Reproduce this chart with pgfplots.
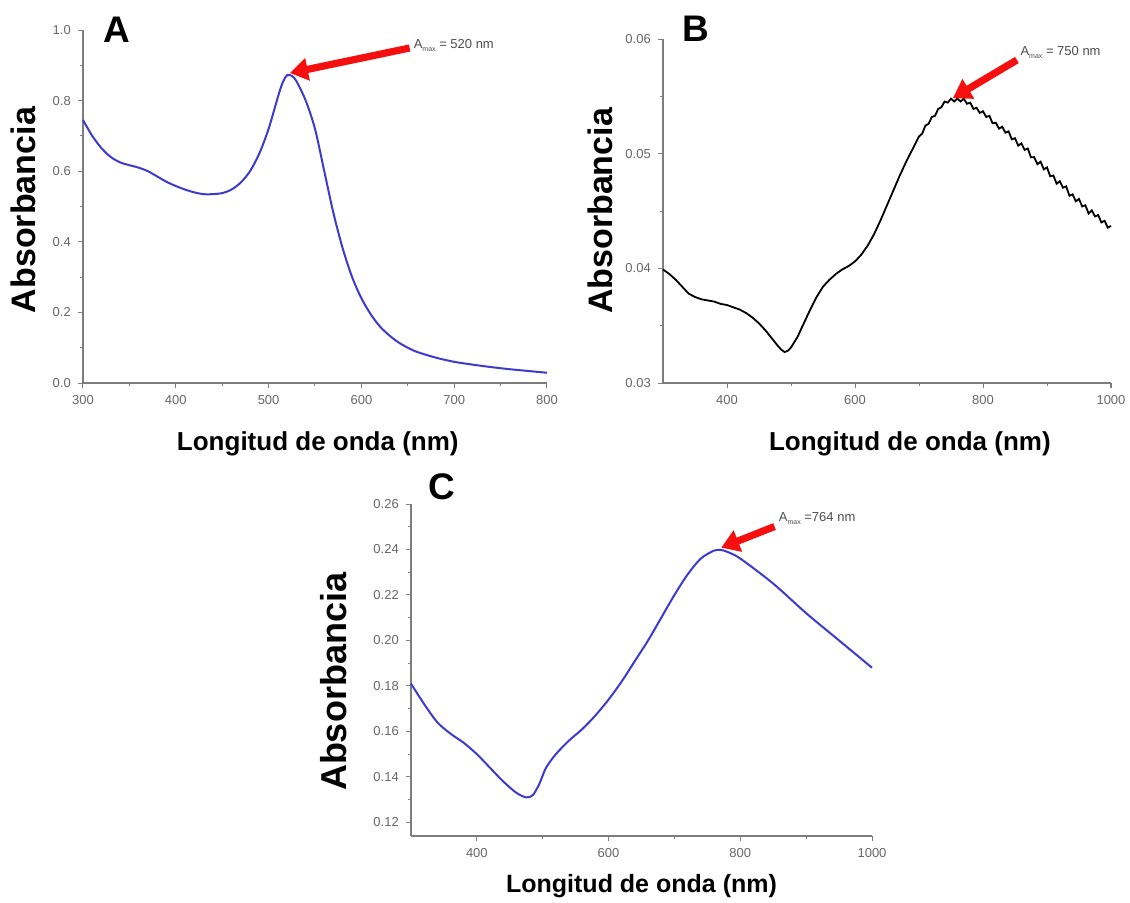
\documentclass[border=0pt]{standalone}
\usepackage{pgfplots}
\pgfplotsset{compat=1.18}
\usepackage{fontspec}
\setmainfont{Liberation Sans}
\usetikzlibrary{arrows.meta}
\definecolor{curveblue}{RGB}{62,58,205}
\definecolor{axgray}{RGB}{125,125,125}
\definecolor{arrred}{RGB}{245,15,15}
\pgfplotsset{
  every axis/.append style={
    scale only axis, axis lines=left,
    axis line style={-, draw=axgray, line width=0.6pt},
    tick align=outside, tick style={draw=axgray, line width=0.5pt},
    major tick length=2.6pt, minor tick length=1.6pt,
    tick label style={font=\fontsize{6.5}{7.5}\selectfont, text=black!60},
    /pgf/number format/assume math mode=true,
    /pgf/number format/1000 sep={},
    scaled y ticks=false, scaled x ticks=false,
    label style={font=\bfseries\fontsize{13}{15}\selectfont, inner sep=0pt},
    ylabel style={font=\bfseries\fontsize{17}{19}\selectfont, anchor=south},
    xlabel style={anchor=north},
    clip=false, anchor=south west,
  },
}
\tikzset{
  annot/.style={font=\fontsize{6.5}{7.5}\selectfont, text=black!70, anchor=base west, inner sep=0pt},
  redarrow/.style={draw=arrred, line width=3.6pt, -{Triangle[length=9pt,width=11pt]}},
}
\newcommand{\Amax}{A\raisebox{-0.5ex}{\fontsize{3.5}{4}\selectfont max}}
\begin{document}
\begin{tikzpicture}
\path[use as bounding box] (0,0) rectangle (565pt,451pt);
% ---------------- A ----------------
\begin{axis}[at={(41.5pt,259.5pt)}, width=232pt, height=176.5pt,
  xmin=300, xmax=800, ymin=0, ymax=1.0,
  xtick={300,400,500,600,700,800}, minor x tick num=1,
  ytick={0,0.2,0.4,0.6,0.8,1.0}, minor y tick num=1,
  yticklabel style={/pgf/number format/fixed, /pgf/number format/fixed zerofill, /pgf/number format/precision=1},
  xlabel={Longitud de onda (nm)}, ylabel={Absorbancia},
  xlabel style={at={(axis description cs:0.506,-0.136)}},
  ylabel style={at={(axis description cs:-0.101,0.49)}},
]
\addplot[curveblue, line width=1pt, smooth] coordinates {
(300,0.745)(310,0.700)(320,0.665)(330,0.640)(340,0.625)(350,0.617)(360,0.610)
(370,0.600)(380,0.585)(390,0.570)(400,0.558)(410,0.548)(420,0.540)(430,0.535)
(440,0.535)(450,0.538)(460,0.548)(470,0.568)(480,0.600)(490,0.650)(500,0.720)
(510,0.810)(515,0.850)(520,0.872)(525,0.870)(530,0.855)(540,0.800)(550,0.720)
(560,0.600)(570,0.480)(580,0.380)(590,0.300)(600,0.240)(610,0.195)(620,0.160)
(630,0.135)(640,0.115)(650,0.100)(660,0.088)(680,0.072)(700,0.060)(720,0.052)
(740,0.045)(760,0.039)(780,0.034)(800,0.029)};
\draw[redarrow] (axis cs:652,0.949) -- (axis cs:523,0.878);
\node[annot] at (axis cs:656,0.949) {\Amax{} = 520 nm};
\end{axis}
% ---------------- B ----------------
\begin{axis}[at={(331.5pt,259.5pt)}, width=224pt, height=172pt,
  xmin=300, xmax=1000, ymin=0.03, ymax=0.06,
  xtick={400,600,800,1000}, minor x tick num=1,
  ytick={0.03,0.04,0.05,0.06}, minor y tick num=1,
  yticklabel style={/pgf/number format/fixed, /pgf/number format/fixed zerofill, /pgf/number format/precision=2},
  xlabel={Longitud de onda (nm)}, ylabel={Absorbancia},
  xlabel style={at={(axis description cs:0.551,-0.14)}},
  ylabel style={at={(axis description cs:-0.112,0.5)}},
]
\addplot[black, line width=0.9pt] coordinates {
(300,0.0399)(310,0.0395)(320,0.0390)(330,0.0384)(340,0.0378)(350,0.0375)(360,0.0373)
(370,0.0372)(380,0.0371)(390,0.0369)(400,0.0368)(410,0.0366)(420,0.0364)(430,0.0361)
(440,0.0357)(450,0.0352)(460,0.0346)(470,0.0339)(480,0.0332)(485,0.0329)(490,0.0327)
(495,0.0328)(500,0.0331)(510,0.0340)(520,0.0352)(530,0.0364)(540,0.0375)(550,0.0384)
(560,0.0390)(570,0.0395)(580,0.0399)(590,0.0402)(600,0.0406)(610,0.0412)(620,0.0420)
(630,0.0430)(640,0.0442)(650,0.0455)(660,0.0468)(670,0.0481)(680,0.0493)(690,0.0504)
(700,0.05150)(705,0.05175)(710,0.05245)(715,0.05260)(720,0.05320)(725,0.05330)
(730,0.05390)(735,0.05405)(740,0.05455)(745,0.05445)(750,0.05480)(755,0.05455)
(760,0.05480)(765,0.05455)(770,0.05480)(775,0.05435)(780,0.05445)(785,0.05390)
(790,0.05400)(795,0.05355)(800,0.05370)(805,0.05320)(810,0.05330)(815,0.05265)
(820,0.05270)(825,0.05218)(830,0.05235)(835,0.05183)(840,0.05195)(845,0.05125)
(850,0.05135)(855,0.05070)(860,0.05090)(865,0.05033)(870,0.05045)(875,0.04968)
(880,0.04970)(885,0.04908)(890,0.04930)(895,0.04863)(900,0.04880)(905,0.04803)
(910,0.04810)(915,0.04738)(920,0.04760)(925,0.04703)(930,0.04715)(935,0.04633)
(940,0.04645)(945,0.04585)(950,0.04605)(955,0.04540)(960,0.04550)(965,0.04478)
(970,0.04505)(975,0.04453)(980,0.04465)(985,0.04400)(990,0.04415)(995,0.04355)
(1000,0.04370)};
\draw[redarrow] (axis cs:853,0.05817) -- (axis cs:753,0.05485);
\node[annot] at (axis cs:858,0.0586) {\Amax{} = 750 nm};
\end{axis}
% ---------------- C ----------------
\begin{axis}[at={(205.5pt,33pt)}, width=230.5pt, height=166pt,
  xmin=300, xmax=1000, ymin=0.114, ymax=0.26,
  xtick={400,600,800,1000}, minor x tick num=1,
  ytick={0.12,0.14,0.16,0.18,0.20,0.22,0.24,0.26}, minor y tick num=1,
  yticklabel style={/pgf/number format/fixed, /pgf/number format/fixed zerofill, /pgf/number format/precision=2},
  xlabel={Longitud de onda (nm)}, ylabel={Absorbancia},
  xlabel style={at={(axis description cs:0.5,-0.114)}, font=\bfseries\fontsize{12.5}{14}\selectfont},
  ylabel style={at={(axis description cs:-0.139,0.464)}, font=\bfseries\fontsize{18}{20}\selectfont},
]
\addplot[curveblue, line width=1pt, smooth] coordinates {
(300,0.181)(320,0.172)(340,0.164)(360,0.159)(380,0.155)(400,0.150)(420,0.144)
(440,0.138)(460,0.133)(475,0.131)(485,0.132)(495,0.137)(505,0.144)(520,0.150)
(540,0.156)(560,0.161)(580,0.167)(600,0.174)(620,0.182)(640,0.191)(660,0.200)
(680,0.210)(700,0.220)(720,0.229)(740,0.236)(760,0.2395)(770,0.2398)(780,0.239)
(800,0.236)(850,0.225)(900,0.212)(950,0.200)(1000,0.188)};
\draw[redarrow] (axis cs:852,0.2501) -- (axis cs:771,0.2408);
\node[annot] at (axis cs:858,0.2523) {\Amax{} =764 nm};
\end{axis}
% panel letters
\node[anchor=base west, inner sep=0pt, font=\bfseries\fontsize{18.5}{20}\selectfont] at (51.5pt,429.5pt) {A};
\node[anchor=base west, inner sep=0pt, font=\bfseries\fontsize{18.5}{20}\selectfont] at (341pt,430pt) {B};
\node[anchor=base west, inner sep=0pt, font=\bfseries\fontsize{18.5}{20}\selectfont] at (214pt,201.5pt) {C};
\end{tikzpicture}
\end{document}
